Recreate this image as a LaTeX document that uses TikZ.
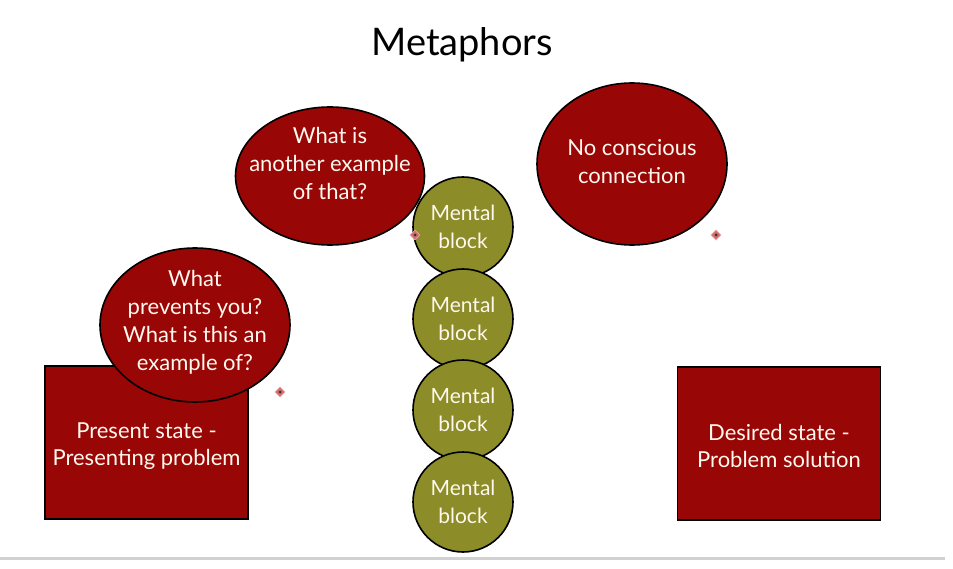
\documentclass[tikz,border=0pt]{standalone}
\usepackage{fontspec}
\setmainfont{Lato}
\usetikzlibrary{shapes.geometric}
\definecolor{dred}{HTML}{990606}
\definecolor{olive}{HTML}{8C8C28}
\definecolor{cream}{HTML}{FFF8EE}
\definecolor{mk}{HTML}{D46A6A}
\tikzset{
  bubble/.style={ellipse, draw=black, line width=1.6pt, fill=dred, inner sep=0pt},
  bubbleText/.style={text=cream, inner sep=0pt, align=center, font=\fontsize{22}{28}\selectfont},
  stateBox/.style={rectangle, draw=black, line width=1.6pt, fill=dred, inner sep=0pt, minimum width=203pt, minimum height=153pt},
  boxText/.style={text=cream, inner sep=0pt, align=center, font=\fontsize{22}{27}\selectfont},
  blockDisk/.style={circle, draw=black, line width=1.6pt, fill=olive, inner sep=0pt, minimum size=100pt},
  blockText/.style={text=cream, inner sep=0pt, align=center, font=\fontsize{21}{28}\selectfont},
  marker/.style={diamond, fill=mk, draw=mk!60, line width=0.8pt, inner sep=0pt, minimum size=10pt},
  dot/.style={circle, fill=black!80, inner sep=0pt, minimum size=3pt}
}
\begin{document}
\begin{tikzpicture}[x=1pt,y=-1pt]
\useasboundingbox (0,0) rectangle (953,569);
\fill[white] (0,0) rectangle (953,569);
\node (title) at (462,45) {\fontsize{38}{42}\selectfont Metaphors};
\node[bubble, minimum width=189pt, minimum height=138pt] (another) at (330,176) {};
\node[bubbleText] (anotherT) at ([yshift=13pt]another.center) {What is\\another example\\of that?};
\node[bubble, minimum width=190pt, minimum height=162pt] (noconn) at (632,164) {};
\node[bubbleText] (noconnT) at ([yshift=2pt]noconn.center) {No conscious\\connection};
\node[stateBox] (present) at (146.5,442.5) {};
\node[boxText] (presentT) at ([yshift=-4pt]present.center) {Present state -\\Presenting problem};
\node[stateBox] (desired) at (779,443.5) {};
\node[boxText] (desiredT) at ([yshift=-2pt]desired.center) {Desired state -\\Problem solution};
\node[bubble, minimum width=190pt, minimum height=154pt] (prevents) at (195,325) {};
\node[bubbleText] (preventsT) at ([yshift=3pt]prevents.center) {What\\prevents you?\\What is this an\\example of?};
\node[blockDisk] (b1) at (463,227) {};
\node[blockText] at (b1) {Mental\\block};
\node[blockDisk] (b2) at (463,319) {};
\node[blockText] at (b2) {Mental\\block};
\node[blockDisk] (b3) at (463,410) {};
\node[blockText] at (b3) {Mental\\block};
\node[blockDisk] (b4) at (463,502) {};
\node[blockText] at (b4) {Mental\\block};
\node[marker] (m1) at (415,235) {};
\node[dot] at (m1) {};
\node[marker] (m2) at (716,235) {};
\node[dot] at (m2) {};
\node[marker] (m3) at (280,392) {};
\node[dot] at (m3) {};
\draw[line width=3pt, draw=black!18] (0,558) -- (945,558);
\end{tikzpicture}
\end{document}
